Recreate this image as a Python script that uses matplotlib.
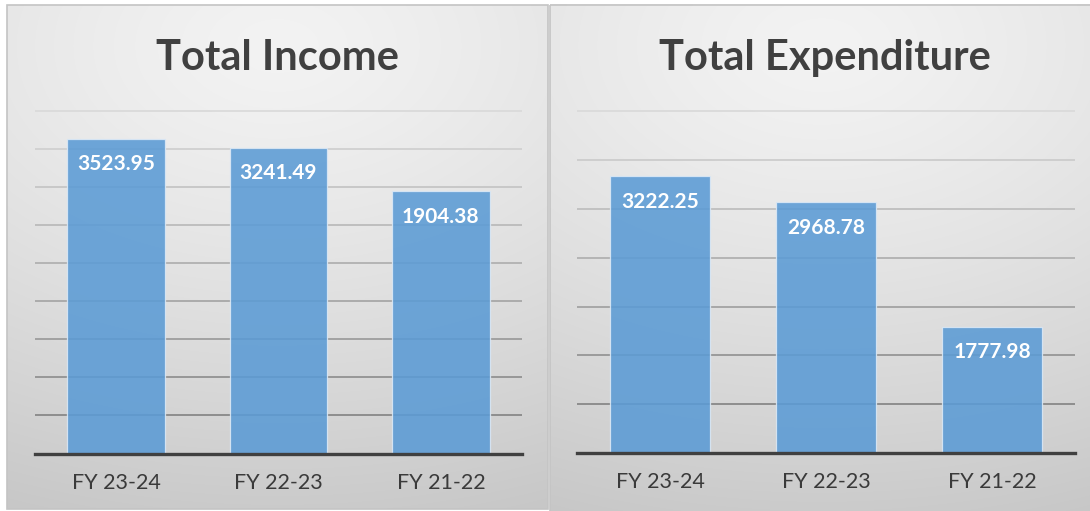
import matplotlib.pyplot as plt
import numpy as np
from matplotlib.patches import Rectangle
from matplotlib.colors import to_rgb

categories = ['FY 23-24', 'FY 22-23', 'FY 21-22']
income = [3523.95, 3241.49, 1904.38]
expenditure = [3222.25, 2968.78, 1777.98]

plt.rcParams['font.family'] = ['Lato', 'DejaVu Sans']

W, H = 1090, 511
fig = plt.figure(figsize=(W / 100, H / 100), dpi=100)
fig.patch.set_facecolor('white')

# fond gris en dégradé pour chaque panneau (coordonnées en pixels)
bg = fig.add_axes([0, 0, 1, 1], zorder=0)


def panel_bg(x0, x1, y0, y1):
    xx, yy = np.meshgrid(np.linspace(0, 1, 300), np.linspace(0, 1, 300))
    r = np.sqrt(((xx - 0.5) * 0.7) ** 2 + (yy - 0.08) ** 2)
    v = np.clip((243 - 45 * r ** 1.3) / 255, 0, 1)
    bg.imshow(np.dstack([v, v, v]), extent=(x0, x1, y1, y0), aspect='auto',
              interpolation='bilinear')
    bg.add_patch(Rectangle((x0, y0), x1 - x0, y1 - y0, fill=False,
                           ec='#c4c4c4', lw=1.2))


panel_bg(7, 548, 5, 509)
panel_bg(550, 1094, 5, 515)
bg.set_xlim(0, W)
bg.set_ylim(H, 0)
bg.axis('off')


def bar_panel(left, right, top, base, values, title, title_x, y_min, step, n_grid):
    ax = fig.add_axes([left / W, (H - base) / H, (right - left) / W, (base - top) / H], zorder=2)
    ax.set_facecolor('none')
    x = np.arange(len(categories))
    ax.bar(x, [v - y_min for v in values], bottom=y_min, width=0.6,
           color='#5b9bd5', alpha=0.88, edgecolor='#dce9f6', linewidth=0.9, zorder=3)
    for xi, v in zip(x, values):
        ax.annotate(f'{v:.2f}', (xi, v), xytext=(0, -18.5), textcoords='offset points',
                    ha='center', va='center', color='white', fontsize=15,
                    fontweight='bold', zorder=5)

    ax.set_xlim(-0.5, len(categories) - 0.5)
    ax.set_ylim(y_min, y_min + (n_grid + 0.03) * step)
    ax.set_yticks(y_min + step * np.arange(1, n_grid + 1))
    ax.set_yticklabels([])
    ax.set_xticks(x)
    ax.set_xticklabels(categories)
    ax.tick_params(axis='both', length=0)
    ax.tick_params(axis='x', pad=14, labelsize=15.5, labelcolor='#3a3a3a')

    # lignes de grille : claires en haut, plus sombres vers le bas
    ax.grid(axis='y', lw=1.3, zorder=1)
    light, dark = np.array(to_rgb('#dadada')), np.array(to_rgb('#888888'))
    lines = ax.get_ygridlines()
    for i, gl in enumerate(lines):
        t = i / max(len(lines) - 1, 1)
        gl.set_color(tuple(dark + (light - dark) * t))

    for s in ['top', 'left', 'right']:
        ax.spines[s].set_visible(False)
    ax.spines['bottom'].set_color('#404040')
    ax.spines['bottom'].set_linewidth(2.4)
    ax.spines['bottom'].set_zorder(4)

    fig.text(title_x / W, (H - 70) / H, title, ha='center', va='baseline',
             fontsize=30, fontweight='bold', color='#404040')
    return ax


bar_panel(35, 522, 110, 453.5, income, 'Total Income', 277, -6195, 1174, 9)
bar_panel(577, 1075, 110, 453, expenditure, 'Total Expenditure', 825, 568, 467.5, 7)

fig.savefig('out.png', dpi=100)
